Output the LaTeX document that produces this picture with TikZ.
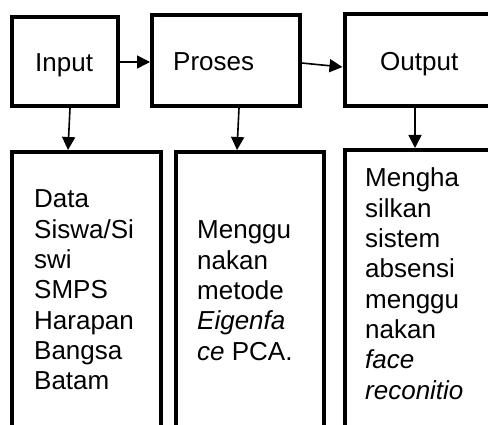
\documentclass[tikz,border=0pt]{standalone}
\usepackage{fontspec}
\setmainfont{Liberation Sans}
\usetikzlibrary{arrows.meta}
\newcommand{\mylines}[1]{\vtop{\baselineskip=30.3pt\lineskip=0pt\lineskiplimit=-100pt #1}}
\tikzset{
  box/.style={draw, line width=4pt, rectangle, inner sep=0pt},
  lbl/.style={inner sep=0pt, anchor=base west, font=\fontsize{26}{30.3}\selectfont},
  arr/.style={line width=1.6pt, -{Triangle[length=13pt,width=13pt]}}
}
\begin{document}
\begin{tikzpicture}[x=1pt,y=-1pt]
\useasboundingbox (0,0) rectangle (488,425);
\clip (0,0) rectangle (488,425);
\fill[white] (0,0) rectangle (488,425);
% top boxes
\node[box, minimum width=106pt, minimum height=89pt] (input) at (65,61.5) {};
\node[box, minimum width=147.5pt, minimum height=91pt] (proses) at (225.75,60.5) {};
\node[box, minimum width=155.5pt, minimum height=92pt] (output) at (422.25,60) {};
% bottom boxes
\node[box, minimum width=149pt, minimum height=298pt] (b1) at (86.5,301) {};
\node[box, minimum width=147.5pt, minimum height=298pt] (b2) at (249.75,301) {};
\node[box, minimum width=155.5pt, minimum height=300pt] (b3) at (422.25,300) {};
% labels
\node[lbl] (tin) at (35,72) {Input};
\node[lbl] (tpr) at (173,71) {Proses};
\node[lbl] (tout) at (380,71) {Output};
\node[lbl] (t1) at (34,208) {\mylines{\hbox{Data}\hbox{Siswa/Si}\hbox{swi}\hbox{SMPS}\hbox{Harapan}\hbox{Bangsa}\hbox{Batam}}};
\node[lbl] (t2) at (197,239) {\mylines{\hbox{Menggu}\hbox{nakan}\hbox{metode}\hbox{\itshape Eigenfa}\hbox{\itshape ce\upshape\ PCA.}}};
\node[lbl] (t3) at (365,187) {\mylines{\hbox{Mengha}\hbox{silkan}\hbox{sistem}\hbox{absensi}\hbox{menggu}\hbox{nakan}\hbox{\itshape face}\hbox{\itshape reconitio}}};
% connectors
\draw[arr] ([yshift=-0.5pt]input.east) -- ([yshift=-1.5pt]proses.west);
\draw[arr] ([yshift=-2.5pt]proses.east) -- ([yshift=-7pt]output.west);
\draw[arr] ([xshift=5pt]input.south) -- ([xshift=-18.5pt]b1.north);
\draw[arr] ([xshift=13.25pt]proses.south) -- ([xshift=-12.75pt]b2.north);
\draw[arr] ([xshift=-7.25pt]output.south) -- ([xshift=-7.25pt]b3.north);
\end{tikzpicture}
\end{document}
